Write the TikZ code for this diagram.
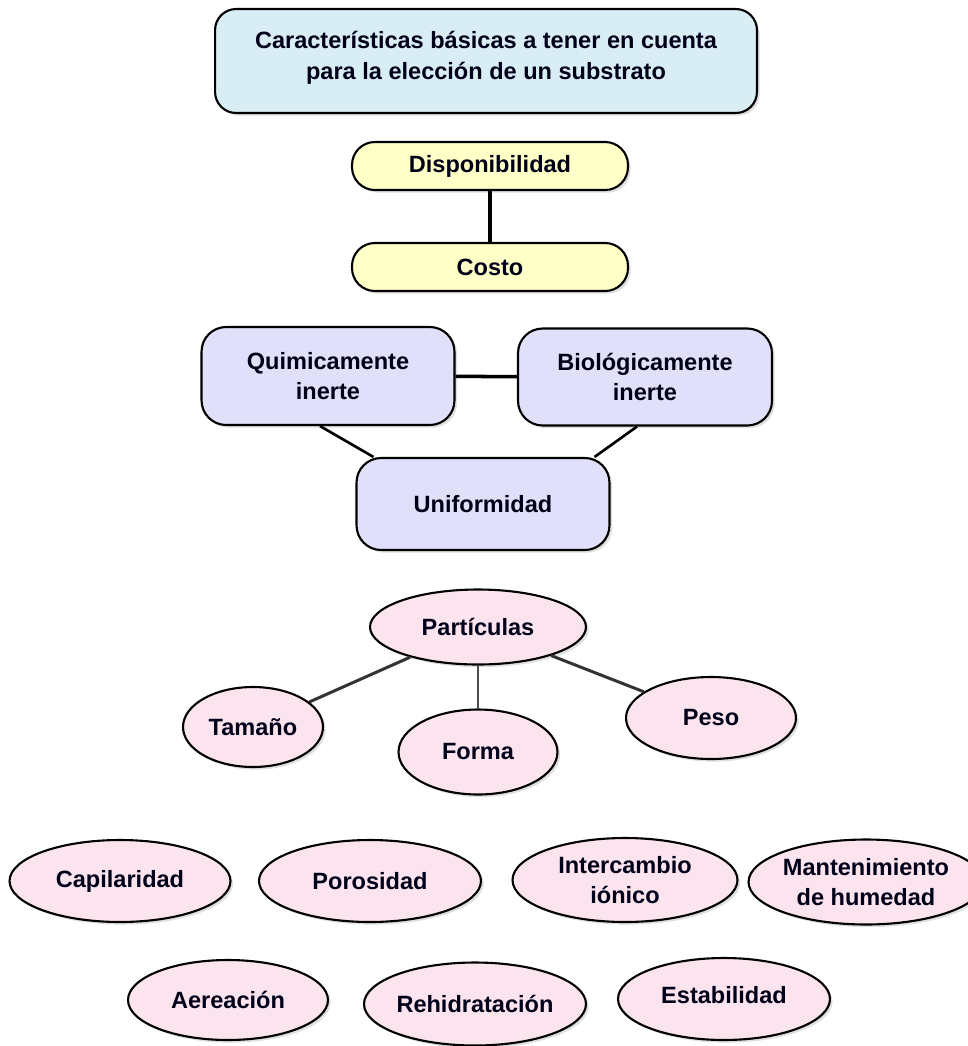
\documentclass[tikz,border=0pt]{standalone}
\usepackage{fontspec}
\setmainfont{Liberation Sans}
\usetikzlibrary{shapes.geometric,shadows}
\definecolor{titlefill}{HTML}{D8EEF4}
\definecolor{costfill}{HTML}{FFFFC8}
\definecolor{inertfill}{HTML}{E0E0FA}
\definecolor{partfill}{HTML}{FCE4EF}
\begin{document}
\begin{tikzpicture}[x=0.02cm, y=-0.02cm,
  every node/.style={font=\fontsize{13.4}{17.5}\selectfont\bfseries, align=center, text=black!90!blue},
  box/.style={draw, line width=1.2pt, rounded corners=10pt, drop shadow={shadow xshift=1.5pt, shadow yshift=-1.5pt, opacity=0.25}},
  oval/.style={draw, ellipse, line width=1.2pt, fill=partfill, inner sep=0pt, drop shadow={shadow xshift=1.5pt, shadow yshift=-1.5pt, opacity=0.25}},
  link/.style={line width=2pt}]
\useasboundingbox (0,0) rectangle (968,1046);
% title
\node[box, fill=titlefill, minimum width=10.84cm, minimum height=2.08cm, rounded corners=12pt] (titulo) at (486,61) {};
\node at (486,58) {Características básicas a tener en cuenta\\para la elección de un substrato};
% availability and cost
\node[box, fill=costfill, minimum width=5.52cm, minimum height=0.96cm, rounded corners=13pt] (disp) at (490,166) {Disponibilidad};
\node[box, fill=costfill, minimum width=5.52cm, minimum height=0.96cm, rounded corners=13pt] (costo) at (490,267) {Costo};
\draw[link] (disp) -- (costo);
% inert and uniform
\node[box, fill=inertfill, minimum width=5.06cm, minimum height=1.96cm, rounded corners=14pt] (quim) at (328,376) {Quimicamente\\inerte};
\node[box, fill=inertfill, minimum width=5.08cm, minimum height=1.94cm, rounded corners=14pt] (biol) at (645,377) {Biológicamente\\inerte};
\node[box, fill=inertfill, minimum width=5.06cm, minimum height=1.84cm, rounded corners=14pt] (unif) at (483,504) {Uniformidad};
\draw[link] (quim) -- (biol);
\path (quim.south) ++(-8,0) coordinate (q1) (unif.north west) ++(18,0) coordinate (u1);
\draw[link, line width=1.5pt] (q1) -- (u1);
\path (biol.south) ++(-8,0) coordinate (b1) (unif.north east) ++(-16,0) coordinate (u2);
\draw[link, line width=1.5pt] (b1) -- (u2);
% particles
\node[oval, minimum width=4.32cm, minimum height=1.5cm] (part) at (478,627) {Partículas};
\node[oval, minimum width=2.8cm, minimum height=1.6cm] (tam) at (253,727) {Tamaño};
\node[oval, minimum width=3.18cm, minimum height=1.7cm] (forma) at (478,752) {Forma};
\node[oval, minimum width=3.4cm, minimum height=1.64cm] (peso) at (711,718) {Peso};
\draw[link, line width=1.7pt, black!80] (part) -- (tam);
\draw[link, line width=1.7pt, black!70] (part) -- (forma);
\draw[link, line width=1.7pt, black!80] (part) -- (peso);
% remaining properties
\node[oval, minimum width=4.42cm, minimum height=1.64cm] (capi) at (120,881) {Capilaridad};
\node[oval, minimum width=4.44cm, minimum height=1.64cm] (poro) at (370,881) {Porosidad};
\node[oval, minimum width=4.5cm, minimum height=1.68cm] (inter) at (625,880) {Intercambio\\iónico};
\node[oval, minimum width=4.08cm, minimum height=1.7cm] (mant) at (866,882) {Mantenimiento\\de humedad};
\node[oval, minimum width=4.0cm, minimum height=1.6cm] (aere) at (228,1000) {Aereación};
\node[oval, minimum width=4.08cm, minimum height=1.66cm] (rehid) at (475,1004) {Rehidratación};
\node[oval, minimum width=4.24cm, minimum height=1.64cm] (estab) at (724,999) {\raisebox{5pt}{Estabilidad}};
\end{tikzpicture}
\end{document}
